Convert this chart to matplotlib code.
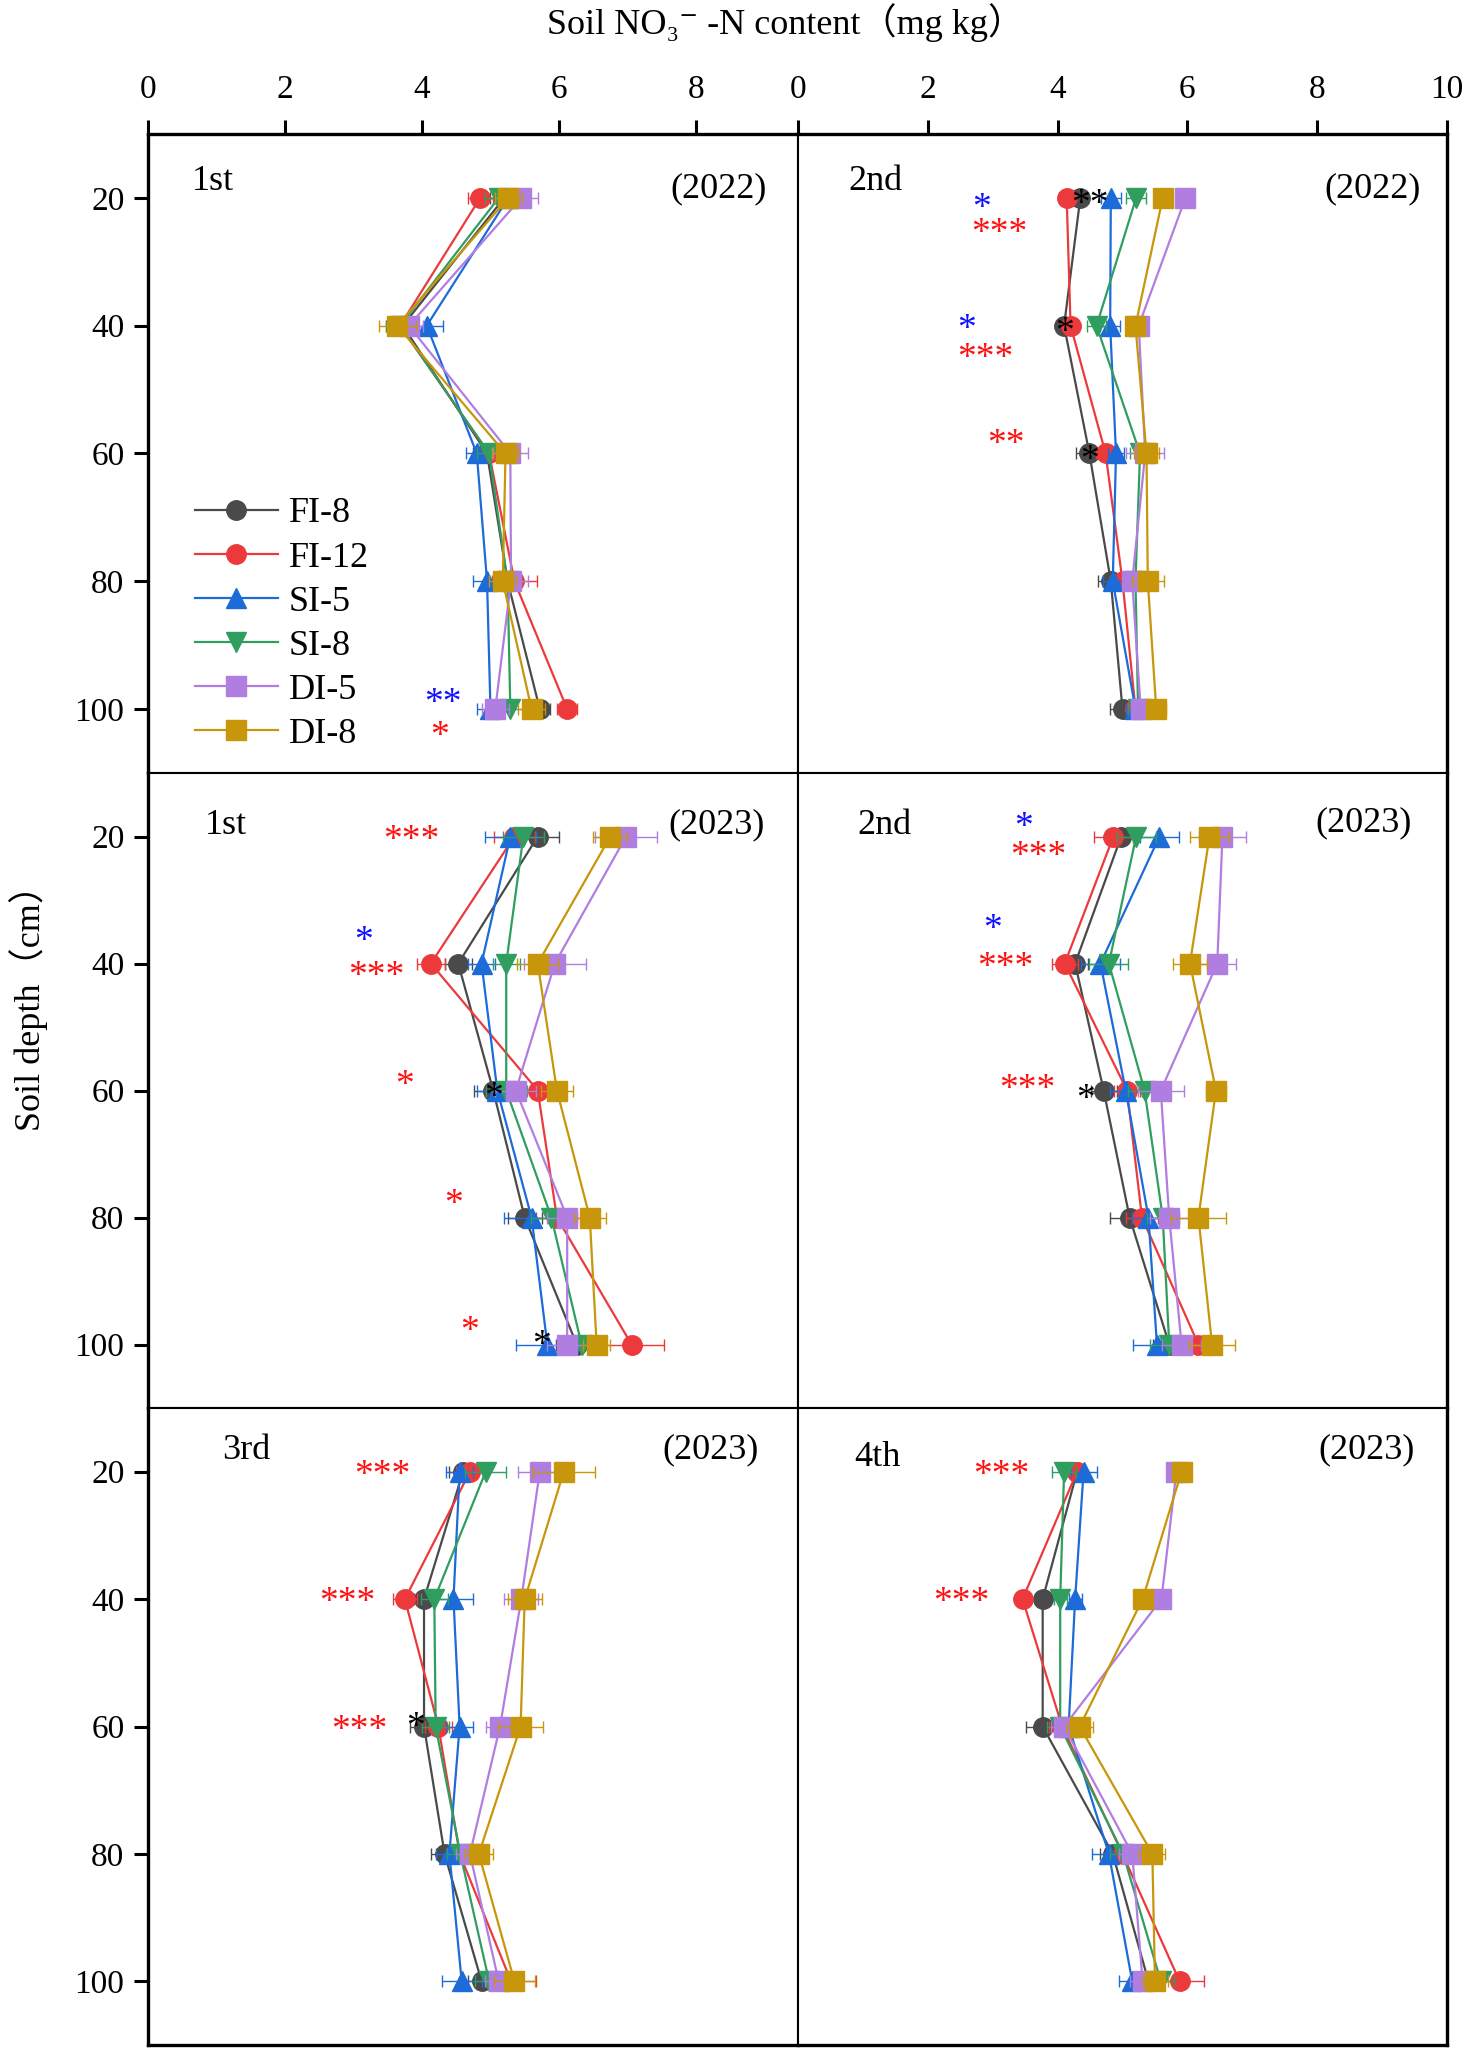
import matplotlib
matplotlib.use('Agg')
import matplotlib.pyplot as plt

plt.rcParams['font.family'] = ['Liberation Serif', 'DejaVu Serif', 'Noto Sans CJK SC']

depths = [20, 40, 60, 80, 100]
treatments = ['FI-8', 'FI-12', 'SI-5', 'SI-8', 'DI-5', 'DI-8']
colors = ['#4a4a4a', '#ec3a3c', '#1c6bd9', '#2f9e5f', '#b07ee0', '#c8960a']
markers = ['o', 'o', '^', 'v', 's', 's']

panel_names = ['1st', '2nd', '1st', '2nd', '3rd', '4th']
panel_years = ['(2022)', '(2022)', '(2023)', '(2023)', '(2023)', '(2023)']

# mean NO3--N (mg/kg), rows = treatments, cols = depths
p1_mean = [[5.20, 3.72, 4.95, 5.25, 5.72],
           [4.85, 3.68, 4.98, 5.35, 6.12],
           [5.26, 4.07, 4.80, 4.95, 5.00],
           [5.12, 3.68, 4.98, 5.25, 5.29],
           [5.45, 3.81, 5.29, 5.30, 5.07],
           [5.26, 3.64, 5.22, 5.18, 5.60]]
p1_err = [[0.20, 0.20, 0.20, 0.15, 0.15],
          [0.18, 0.20, 0.20, 0.33, 0.15],
          [0.20, 0.23, 0.15, 0.20, 0.20],
          [0.20, 0.20, 0.18, 0.20, 0.20],
          [0.25, 0.20, 0.26, 0.25, 0.20],
          [0.20, 0.27, 0.20, 0.20, 0.20]]

p2_mean = [[4.35, 4.10, 4.49, 4.82, 5.00],
           [4.14, 4.20, 4.74, 5.00, 5.20],
           [4.82, 4.81, 4.90, 4.85, 5.20],
           [5.21, 4.60, 5.27, 5.20, 5.24],
           [5.97, 5.25, 5.35, 5.15, 5.28],
           [5.62, 5.20, 5.37, 5.39, 5.52]]
p2_err = [[0.12, 0.10, 0.20, 0.20, 0.20],
          [0.12, 0.10, 0.15, 0.20, 0.15],
          [0.15, 0.15, 0.12, 0.15, 0.15],
          [0.15, 0.15, 0.15, 0.15, 0.15],
          [0.10, 0.15, 0.29, 0.15, 0.15],
          [0.10, 0.15, 0.20, 0.25, 0.15]]

p3_mean = [[5.69, 4.53, 5.04, 5.50, 6.26],
           [5.35, 4.13, 5.69, 5.97, 7.06],
           [5.29, 4.87, 5.10, 5.60, 5.83],
           [5.48, 5.23, 5.23, 5.89, 6.33],
           [6.98, 5.94, 5.37, 6.12, 6.12],
           [6.75, 5.69, 5.97, 6.45, 6.55]]
p3_err = [[0.31, 0.20, 0.28, 0.25, 0.30],
          [0.30, 0.20, 0.25, 0.30, 0.48],
          [0.37, 0.20, 0.30, 0.40, 0.45],
          [0.30, 0.20, 0.30, 0.30, 0.30],
          [0.45, 0.45, 0.30, 0.30, 0.30],
          [0.25, 0.30, 0.23, 0.23, 0.20]]

p4_mean = [[4.98, 4.27, 4.71, 5.11, 5.72],
           [4.86, 4.11, 5.07, 5.30, 6.17],
           [5.57, 4.66, 5.05, 5.40, 5.53],
           [5.21, 4.79, 5.34, 5.62, 5.72],
           [6.54, 6.46, 5.59, 5.72, 5.91],
           [6.34, 6.04, 6.44, 6.17, 6.38]]
p4_err = [[0.20, 0.20, 0.20, 0.30, 0.25],
          [0.30, 0.20, 0.20, 0.25, 0.25],
          [0.30, 0.30, 0.25, 0.25, 0.37],
          [0.30, 0.30, 0.25, 0.25, 0.30],
          [0.36, 0.29, 0.35, 0.30, 0.30],
          [0.30, 0.26, 0.16, 0.42, 0.36]]

p5_mean = [[4.60, 4.03, 4.03, 4.33, 4.87],
           [4.70, 3.75, 4.24, 4.55, 5.30],
           [4.55, 4.46, 4.55, 4.40, 4.58],
           [4.93, 4.18, 4.20, 4.56, 4.98],
           [5.72, 5.45, 5.14, 4.70, 5.12],
           [6.07, 5.50, 5.44, 4.83, 5.35]]
p5_err = [[0.20, 0.15, 0.20, 0.20, 0.20],
          [0.20, 0.18, 0.20, 0.20, 0.37],
          [0.20, 0.28, 0.20, 0.20, 0.29],
          [0.30, 0.20, 0.20, 0.20, 0.20],
          [0.32, 0.25, 0.20, 0.20, 0.20],
          [0.45, 0.25, 0.33, 0.20, 0.30]]

p6_mean = [[4.30, 3.77, 3.77, 4.85, 5.40],
           [4.30, 3.46, 4.07, 5.00, 5.88],
           [4.40, 4.27, 4.17, 4.79, 5.15],
           [4.10, 4.04, 4.04, 5.01, 5.59],
           [5.83, 5.60, 4.10, 5.15, 5.31],
           [5.91, 5.31, 4.34, 5.46, 5.50]]
p6_err = [[0.10, 0.10, 0.25, 0.20, 0.20],
          [0.10, 0.10, 0.20, 0.20, 0.38],
          [0.20, 0.10, 0.20, 0.26, 0.20],
          [0.18, 0.10, 0.20, 0.20, 0.20],
          [0.05, 0.05, 0.20, 0.20, 0.20],
          [0.05, 0.05, 0.20, 0.20, 0.20]]

# significance marks: (x, depth, text, colour)
p1_sig = [(4.30, 98.5, '**', 'b'), (4.25, 103.7, '*', 'r')]
p2_sig = [(2.83, 21, '*', 'b'), (3.10, 25, '***', 'r'), (2.60, 40, '*', 'b'),
          (2.88, 44.5, '***', 'r'), (3.20, 58, '**', 'r'),
          (4.50, 20.5, '**', 'k'), (4.10, 40.5, '*', 'k'), (4.49, 60.5, '*', 'k')]
p3_sig = [(3.85, 20, '***', 'r'), (3.15, 36, '*', 'b'), (3.34, 41.5, '***', 'r'),
          (3.75, 58.6, '*', 'r'), (4.46, 77.3, '*', 'r'), (4.69, 97.3, '*', 'r'),
          (5.04, 60.5, '*', 'k'), (5.75, 99.5, '*', 'k')]
p4_sig = [(3.48, 18, '*', 'b'), (3.70, 22.6, '***', 'r'), (3.00, 34, '*', 'b'),
          (3.20, 40, '***', 'r'), (3.54, 59.3, '***', 'r'), (4.43, 60.8, '*', 'k')]
p5_sig = [(3.42, 20, '***', 'r'), (2.91, 40, '***', 'r'), (3.08, 60, '***', 'r'),
          (3.90, 59.5, '*', 'k')]
p6_sig = [(3.13, 20, '***', 'r'), (2.52, 40, '***', 'r')]

means = [p1_mean, p2_mean, p3_mean, p4_mean, p5_mean, p6_mean]
errs = [p1_err, p2_err, p3_err, p4_err, p5_err, p6_err]
sigs = [p1_sig, p2_sig, p3_sig, p4_sig, p5_sig, p6_sig]
sig_colors = {'r': '#ff1010', 'b': '#1010ff', 'k': 'black'}

W, H = 1476, 2048
fig = plt.figure(figsize=(W / 100, H / 100), dpi=100)

col_x = [148, 798, 1447]
row_y = [134, 773, 1408, 2045]
xmax = [9.49, 10]

# panel label positions in axes fraction
name_pos = [(0.068, 0.926), (0.077, 0.926), (0.088, 0.918), (0.091, 0.918), (0.114, 0.933), (0.087, 0.923)]
year_pos = [(0.952, 0.914), (0.960, 0.914), (0.949, 0.918), (0.946, 0.922), (0.940, 0.935), (0.950, 0.935)]

fs = 26      # panel labels, legend, axis titles
fs_tick = 24
fs_sig = 27
for k in range(6):
    r, c = k // 2, k % 2
    left = col_x[c] / W
    width = (col_x[c + 1] - col_x[c]) / W
    bottom = 1 - row_y[r + 1] / H
    height = (row_y[r + 1] - row_y[r]) / H
    ax = fig.add_axes([left, bottom, width, height])

    for i, name in enumerate(treatments):
        ax.errorbar(means[k][i], depths, xerr=errs[k][i], color=colors[i],
                    marker=markers[i], ms=14, mec=colors[i], lw=1.6,
                    elinewidth=1.0, capsize=4, capthick=1.0, barsabove=True,
                    label=name, zorder=3 + i)

    # asterisk glyph sits high in the em box, so shift it down a little
    for x, d, t, cc in sigs[k]:
        ax.annotate(t, (x, d), xytext=(0, -0.11 * fs_sig), textcoords='offset points',
                    color=sig_colors[cc], fontsize=fs_sig, ha='center',
                    va='center', zorder=20)

    ax.set_xlim(0, xmax[c])
    ax.set_ylim(110, 10)

    ax.text(*name_pos[k], panel_names[k], transform=ax.transAxes, fontsize=fs,
            ha='left', va='center')
    ax.text(*year_pos[k], panel_years[k], transform=ax.transAxes, fontsize=fs,
            ha='right', va='center')

    for side, sp in ax.spines.items():
        sp.set_linewidth(1.5)
    if r == 0:
        ax.spines['top'].set_linewidth(2.4)
    if r == 2:
        ax.spines['bottom'].set_linewidth(2.4)
    if c == 0:
        ax.spines['left'].set_linewidth(2.4)
    else:
        ax.spines['right'].set_linewidth(2.4)

    if r == 0:
        ax.xaxis.tick_top()
        ax.set_xticks([0, 2, 4, 6, 8] if c == 0 else [0, 2, 4, 6, 8, 10])
        ax.tick_params(axis='x', direction='out', length=10, width=2.2,
                       labelsize=fs_tick, pad=11)
    else:
        ax.set_xticks([])

    if c == 0:
        ax.set_yticks(depths)
        ax.tick_params(axis='y', direction='out', length=10, width=2.2,
                       labelsize=fs_tick, pad=7)
    else:
        ax.set_yticks([])

    if k == 0:
        handles, labels = ax.get_legend_handles_labels()
        handles = [h[0] for h in handles]
        ax.legend(handles, labels, loc='center left', bbox_to_anchor=(0.072, 0.233),
                  frameon=False, fontsize=fs, handlelength=2.3, handletextpad=0.3,
                  labelspacing=0.3, borderpad=0, borderaxespad=0)

fig.text(0.532, 1 - 23 / H, 'Soil NO\u2083\u207b -N content\uff08mg kg\uff09',
         ha='center', va='center', fontsize=fs)
fig.text(29 / W, 1 - 999 / H, 'Soil depth\uff08cm\uff09', rotation=90,
         ha='center', va='center', fontsize=fs)

fig.savefig('out.png', dpi=100)
